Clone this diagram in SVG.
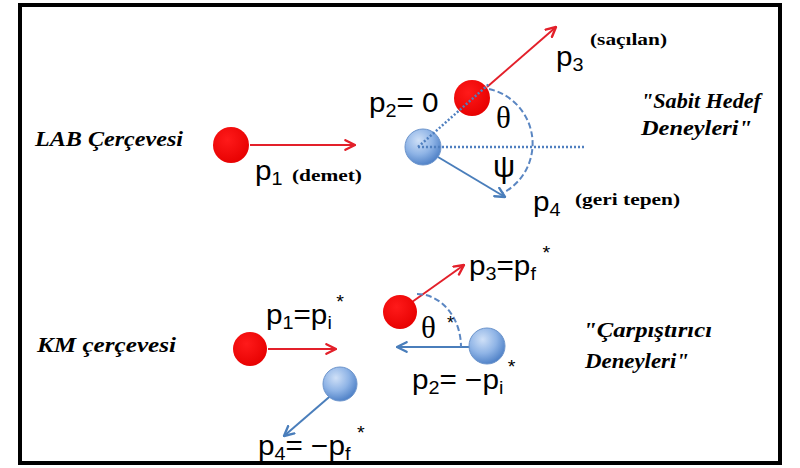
<svg xmlns="http://www.w3.org/2000/svg" width="800" height="468" viewBox="0 0 800 468">
<defs>
<radialGradient id="blueGrad" cx="0.38" cy="0.32" r="0.7">
<stop offset="0" stop-color="#cfe0f7"/>
<stop offset="0.55" stop-color="#8fb4e6"/>
<stop offset="1" stop-color="#4f81c7"/>
</radialGradient>
<radialGradient id="redGrad" cx="0.4" cy="0.35" r="0.7">
<stop offset="0" stop-color="#ff1a1a"/>
<stop offset="1" stop-color="#e60000"/>
</radialGradient>
<marker id="arrRed" viewBox="0 0 10 10" refX="9" refY="5" markerWidth="12" markerHeight="12" markerUnits="userSpaceOnUse" orient="auto">
<path d="M1,1 L9,5 L1,9" fill="none" stroke="#e3202a" stroke-width="2" stroke-linecap="round" stroke-linejoin="round"/>
</marker>
<marker id="arrBlue" viewBox="0 0 10 10" refX="9" refY="5" markerWidth="12" markerHeight="12" markerUnits="userSpaceOnUse" orient="auto">
<path d="M1,1 L9,5 L1,9" fill="none" stroke="#4a7ebb" stroke-width="2" stroke-linecap="round" stroke-linejoin="round"/>
</marker>
</defs>
<style>
.frame{fill:#ffffff;stroke:#000000;stroke-width:4}
.red{fill:url(#redGrad)}
.blue{fill:url(#blueGrad);stroke:#6d95cc;stroke-width:1}
.rarrow{fill:none;stroke:#e3202a;stroke-width:2;marker-end:url(#arrRed)}
.barrow{fill:none;stroke:#4a7ebb;stroke-width:2;marker-end:url(#arrBlue)}
.dot{fill:none;stroke:#4f7fbf;stroke-width:2.5;stroke-dasharray:2 2}
.dash{fill:none;stroke:#5a86c2;stroke-width:2;stroke-dasharray:6 3}
.title{font-weight:bold;font-style:italic;font-size:20px;fill:#000}
.note{font-weight:bold;font-size:16px;fill:#000}
.math{font-size:27px;fill:#000}
.sub{font-size:18px}
.star{font-size:18px}
.greek{font-size:31px;fill:#000}
</style>
<rect class="frame" x="20" y="5" width="760" height="458"/>

<g id="connectors">
<line class="rarrow" x1="250" y1="145" x2="355" y2="145"/>
<line class="rarrow" x1="487" y1="87" x2="556" y2="27"/>
<line class="barrow" x1="438" y1="157" x2="505" y2="197"/>
<line class="rarrow" x1="268" y1="349" x2="336" y2="349"/>
<line class="rarrow" x1="412" y1="302" x2="464" y2="265"/>
<line class="barrow" x1="470" y1="347" x2="397" y2="347"/>
<line class="barrow" x1="335" y1="392" x2="284" y2="436"/>
</g>

<g id="lab-target"><circle class="blue" cx="423" cy="147" r="18"/></g>
<g id="lab-scattered"><circle class="red" cx="472" cy="98" r="18"/></g>
<g id="lab-beam"><circle class="red" cx="231" cy="145" r="18"/></g>

<g id="lab-guides">
<line class="dot" x1="418" y1="147" x2="489" y2="84"/>
<line class="dot" x1="418" y1="147" x2="585" y2="147"/>
<path class="dash" d="M489,89 A56,56 0 0 1 503,193"/>
</g>

<g id="km-p1"><circle class="red" cx="250" cy="349" r="17"/></g>
<g id="km-p3"><circle class="red" cx="400" cy="312" r="17"/></g>
<g id="km-p2"><circle class="blue" cx="487" cy="346" r="18"/></g>
<g id="km-p4"><circle class="blue" cx="340" cy="384" r="17"/></g>
<g id="km-guides">
<path class="dash" d="M417,294 A44,53 0 0 1 461,347"/>
</g>

<g id="labels">
<g font-family="'Liberation Serif', 'Times New Roman', serif">
<text class="title" x="35" y="146" textLength="148" lengthAdjust="spacingAndGlyphs">LAB Çerçevesi</text>
<text class="title" x="37" y="352" textLength="139" lengthAdjust="spacingAndGlyphs">KM çerçevesi</text>
<text class="title" x="641" y="108" textLength="120" lengthAdjust="spacingAndGlyphs">"Sabit Hedef</text>
<text class="title" x="641" y="135" textLength="111" lengthAdjust="spacingAndGlyphs">Deneyleri"</text>
<text class="title" x="583" y="337" textLength="129" lengthAdjust="spacingAndGlyphs">"Çarpıştırıcı</text>
<text class="title" x="585" y="368" textLength="104" lengthAdjust="spacingAndGlyphs">Deneyleri"</text>
<text class="note" x="292" y="181" textLength="70" lengthAdjust="spacingAndGlyphs">(demet)</text>
<text class="note" x="590" y="45" textLength="77" lengthAdjust="spacingAndGlyphs">(saçılan)</text>
<text class="note" x="575" y="205" textLength="105" lengthAdjust="spacingAndGlyphs">(geri tepen)</text>
<text class="greek" x="496" y="128">θ</text>
<text class="greek" x="421" y="338">θ</text>
</g>
<g font-family="'Liberation Sans', Arial, sans-serif">
<text class="greek" x="493" y="177" font-size="27">ψ</text>
<text class="math" transform="translate(369,112) scale(1.1 1)">p<tspan class="sub" dy="5">2</tspan><tspan dy="-5">= 0</tspan></text>
<text class="math" transform="translate(255,180) scale(1.1 1)">p<tspan class="sub" dy="5">1</tspan></text>
<text class="math" transform="translate(556,66) scale(1.1 1)">p<tspan class="sub" dy="5">3</tspan></text>
<text class="math" transform="translate(533,211) scale(1.1 1)">p<tspan class="sub" dy="5">4</tspan></text>
<text class="math" transform="translate(266,324) scale(1.1 1)">p<tspan class="sub" dy="5">1</tspan><tspan dy="-5">=p</tspan><tspan class="sub" dy="5">i</tspan><tspan class="star" dx="4" dy="-21">*</tspan></text>
<text class="math" transform="translate(469,275) scale(1.1 1)">p<tspan class="sub" dy="5">3</tspan><tspan dy="-5">=p</tspan><tspan class="sub" dy="5">f</tspan><tspan class="star" dx="6" dy="-21">*</tspan></text>
<text class="math star" x="447" y="329">*</text>
<text class="math" transform="translate(412,389) scale(1.1 1)">p<tspan class="sub" dy="5">2</tspan><tspan dy="-5">= −p</tspan><tspan class="sub" dy="5">i</tspan><tspan class="star" dx="4" dy="-21">*</tspan></text>
<text class="math" transform="translate(258,455) scale(1.1 1)">p<tspan class="sub" dy="5">4</tspan><tspan dy="-5">= −p</tspan><tspan class="sub" dy="5">f</tspan><tspan class="star" dx="6" dy="-21">*</tspan></text>
</g>
</g>
</svg>
